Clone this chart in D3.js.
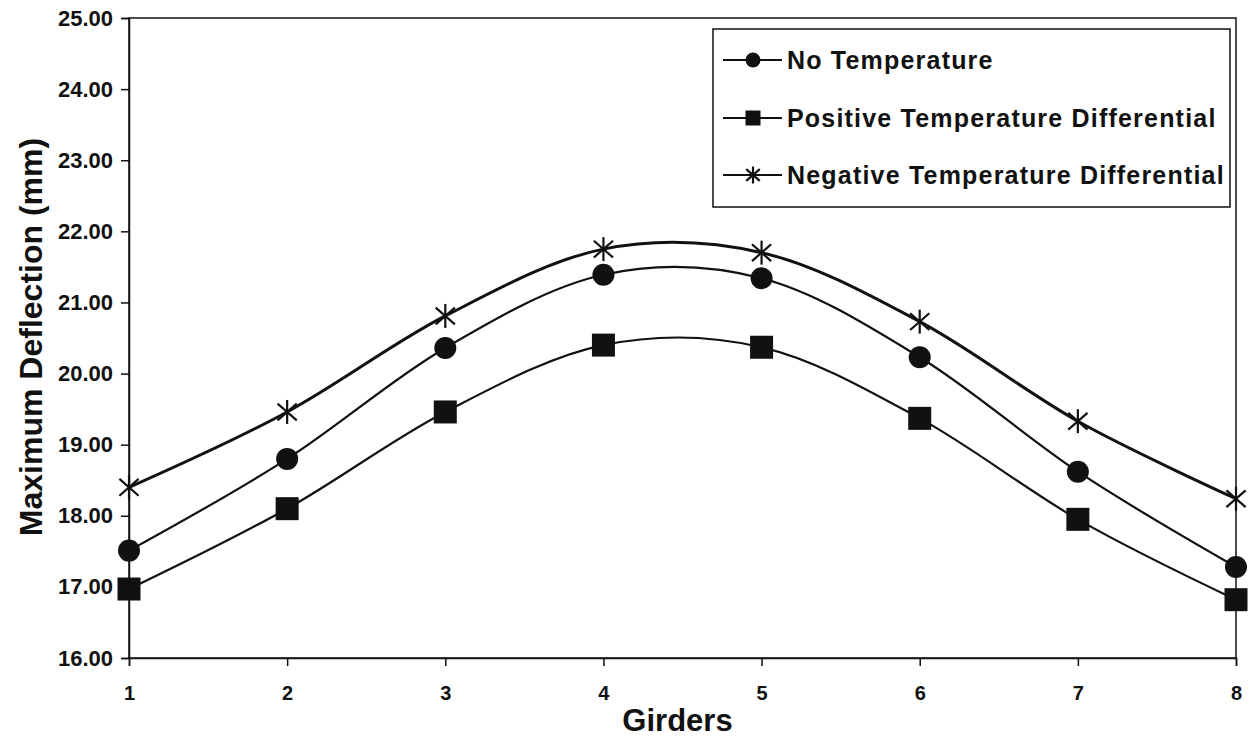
<!DOCTYPE html>
<html>
<head>
<meta charset="utf-8">
<script src="https://cdn.jsdelivr.net/npm/d3@7"></script>
<style>
  html, body { margin: 0; padding: 0; background: #fff; }
  svg { display: block; font-family: "Liberation Sans", Arial, sans-serif; font-weight: bold; }
</style>
</head>
<body>
<svg id="chart" width="1249" height="740"></svg>
<script>
// Girder positions and maximum deflection (mm) for each load case
const girders = [1, 2, 3, 4, 5, 6, 7, 8];
const noTemperature = [17.51, 18.80, 20.36, 21.39, 21.34, 20.23, 18.62, 17.28];
const positiveDifferential = [16.97, 18.10, 19.46, 20.40, 20.37, 19.37, 17.95, 16.82];
const negativeDifferential = [18.40, 19.46, 20.81, 21.75, 21.70, 20.73, 19.33, 18.24];
const yTicks = [16, 17, 18, 19, 20, 21, 22, 23, 24, 25];
const seriesNames = ["No Temperature", "Positive Temperature Differential", "Negative Temperature Differential"];

const svg = d3.select("#chart");
const plotL = 129, plotR = 1236, plotT = 18, plotB = 658;

const x = d3.scaleLinear().domain([1, 8]).range([plotL, plotR]);
const y = d3.scaleLinear().domain([16, 25]).range([plotB, plotT]);

// plot frame
svg.append("rect")
  .attr("x", plotL).attr("y", plotT)
  .attr("width", plotR - plotL).attr("height", plotB - plotT)
  .attr("fill", "none").attr("stroke", "#111").attr("stroke-width", 1.5);

// axes
const yAxis = d3.axisLeft(y).tickValues(yTicks).tickFormat(d3.format(".2f")).tickSize(8).tickPadding(8);
const gy = svg.append("g").attr("transform", `translate(${plotL},0)`).call(yAxis);
gy.select(".domain").attr("stroke", "#111").attr("stroke-width", 1.5);
gy.selectAll(".tick line").attr("stroke", "#111").attr("stroke-width", 1.5);
gy.selectAll(".tick text").attr("font-size", 22).attr("font-weight", "bold")
  .attr("font-family", "Liberation Sans, Arial, sans-serif").attr("fill", "#111");

const xAxis = d3.axisBottom(x).tickValues(girders).tickFormat(d3.format("d")).tickSize(8).tickPadding(20);
const gx = svg.append("g").attr("transform", `translate(0,${plotB})`).call(xAxis);
gx.select(".domain").attr("stroke", "#111").attr("stroke-width", 1.5);
gx.selectAll(".tick line").attr("stroke", "#111").attr("stroke-width", 1.5);
gx.selectAll(".tick text").attr("font-size", 20).attr("font-weight", "bold")
  .attr("font-family", "Liberation Sans, Arial, sans-serif").attr("fill", "#111");

// axis titles
svg.append("text")
  .attr("x", (plotL + plotR) / 2 - 5).attr("y", 731)
  .attr("text-anchor", "middle").attr("font-size", 31).attr("fill", "#111")
  .text("Girders");

svg.append("text")
  .attr("transform", `translate(42,337) rotate(-90)`)
  .attr("text-anchor", "middle").attr("font-size", 32).attr("fill", "#111")
  .text("Maximum Deflection (mm)");

// markers
const star = (g, size, sw) => {
  const h = size / 2;
  g.append("line").attr("x1", 0).attr("y1", -h).attr("x2", 0).attr("y2", h);
  g.append("line").attr("x1", -h * 0.8).attr("y1", -h * 0.7).attr("x2", h * 0.8).attr("y2", h * 0.7);
  g.append("line").attr("x1", -h * 0.8).attr("y1", h * 0.7).attr("x2", h * 0.8).attr("y2", -h * 0.7);
  g.selectAll("line").attr("stroke", "#111").attr("stroke-width", sw);
};
const markers = {
  circle: (g, s) => g.append("circle").attr("r", s / 2).attr("fill", "#111"),
  square: (g, s) => g.append("rect").attr("x", -s / 2).attr("y", -s / 2).attr("width", s).attr("height", s).attr("fill", "#111"),
  star: (g, s) => star(g, s, 2.2)
};

const series = [
  { name: seriesNames[0], values: noTemperature, marker: "circle", size: 22, width: 2.2 },
  { name: seriesNames[1], values: positiveDifferential, marker: "square", size: 23, width: 2.2 },
  { name: seriesNames[2], values: negativeDifferential, marker: "star", size: 24, width: 3 }
];

const line = d3.line()
  .x((d, i) => x(girders[i]))
  .y(d => y(d))
  .curve(d3.curveCardinal.tension(0));

series.forEach(s => {
  svg.append("path")
    .attr("d", line(s.values))
    .attr("fill", "none").attr("stroke", "#111").attr("stroke-width", s.width);
  s.values.forEach((v, i) => {
    const g = svg.append("g").attr("transform", `translate(${x(girders[i])},${y(v)})`);
    markers[s.marker](g, s.size);
  });
});

// legend
const lg = svg.append("g");
lg.append("rect")
  .attr("x", 713).attr("y", 29).attr("width", 517).attr("height", 178)
  .attr("fill", "#fff").attr("stroke", "#111").attr("stroke-width", 1.5);
const rowY = [60, 118, 175];
series.forEach((s, i) => {
  const ry = rowY[i];
  lg.append("line").attr("x1", 723).attr("x2", 782).attr("y1", ry).attr("y2", ry)
    .attr("stroke", "#111").attr("stroke-width", 2);
  const g = lg.append("g").attr("transform", `translate(753,${ry})`);
  markers[s.marker](g, s.marker === "star" ? 17 : 15);
  lg.append("text")
    .attr("x", 787).attr("y", ry + 9)
    .attr("font-size", 25).attr("letter-spacing", 1.2).attr("fill", "#111")
    .text(s.name);
});
</script>
</body>
</html>
